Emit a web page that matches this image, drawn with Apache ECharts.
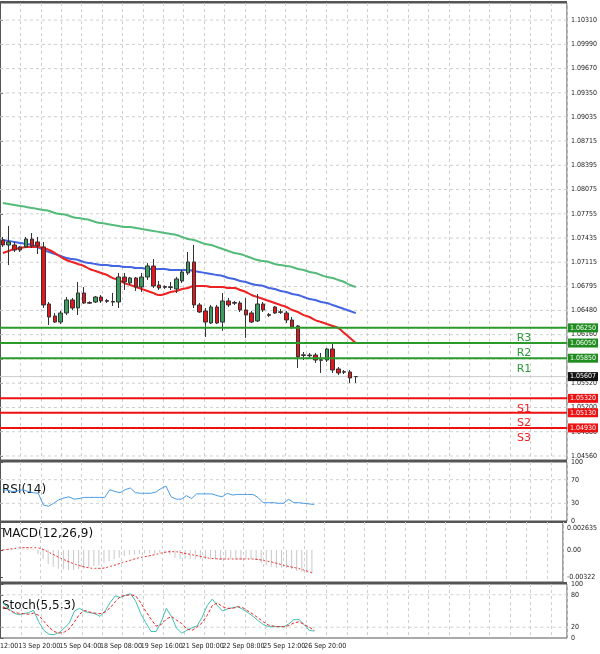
<!DOCTYPE html>
<html>
<head>
<meta charset="utf-8">
<script src="https://cdn.jsdelivr.net/npm/echarts@6/dist/echarts.min.js"></script>
<style>
  html, body { margin: 0; padding: 0; background: #fff; }
  #chart { width: 600px; height: 654px; }
</style>
</head>
<body>
<div id="chart"></div>
<script>
// candles: [open, close, low, high]
const candles = [
  [1.07409,1.07343,1.07317,1.07449],[1.07343,1.07383,1.07079,1.07594],[1.07343,1.07277,1.07251,1.07383],
  [1.07317,1.07277,1.07251,1.07330],[1.07317,1.07422,1.07303,1.07449],[1.07422,1.07330,1.07303,1.07501],
  [1.07383,1.07330,1.07224,1.07449],[1.07317,1.06552,1.06512,1.07383],[1.06565,1.06393,1.06288,1.06591],
  [1.06407,1.06327,1.06314,1.06446],[1.06327,1.06446,1.06301,1.06473],[1.06446,1.06618,1.06420,1.06657],
  [1.06618,1.06512,1.06486,1.06644],[1.06512,1.06710,1.06420,1.06855],[1.06710,1.06578,1.06565,1.06789],
  [1.06585,1.06575,1.06565,1.06600],[1.06591,1.06657,1.06578,1.06670],[1.06657,1.06605,1.06578,1.06683],
  [1.06610,1.06600,1.06578,1.06630],[1.06598,1.06590,1.06539,1.06710],[1.06591,1.06921,1.06512,1.06974],
  [1.06921,1.06855,1.06750,1.06974],[1.06842,1.06908,1.06815,1.06921],[1.06908,1.06789,1.06737,1.06921],
  [1.06789,1.06921,1.06724,1.06974],[1.06921,1.07066,1.06881,1.07106],[1.07066,1.06802,1.06776,1.07158],
  [1.06815,1.06776,1.06750,1.06868],[1.06795,1.06785,1.06763,1.06810],[1.06792,1.06782,1.06750,1.06855],
  [1.06763,1.06895,1.06710,1.06921],[1.06868,1.06987,1.06842,1.07013],[1.06974,1.07119,1.06947,1.07251],
  [1.07119,1.06552,1.06512,1.07343],[1.06552,1.06459,1.06446,1.06578],[1.06473,1.06327,1.06130,1.06512],
  [1.06314,1.06525,1.06301,1.06552],[1.06525,1.06314,1.06301,1.06552],[1.06327,1.06605,1.06209,1.06710],
  [1.06605,1.06552,1.06525,1.06644],[1.06585,1.06575,1.06552,1.06605],[1.06578,1.06486,1.06459,1.06605],
  [1.06486,1.06420,1.06117,1.06644],[1.06446,1.06327,1.06314,1.06473],[1.06341,1.06565,1.06327,1.06697],
  [1.06565,1.06486,1.06459,1.06591],[1.06425,1.06415,1.06393,1.06446],[1.06525,1.06446,1.06433,1.06538],
  [1.06455,1.06462,1.06433,1.06499],[1.06446,1.06354,1.06314,1.06473],[1.06354,1.06261,1.06235,1.06393],
  [1.06275,1.05866,1.05721,1.06288],[1.05895,1.05885,1.05826,1.05932],[1.05892,1.05882,1.05853,1.05919],
  [1.05892,1.05826,1.05787,1.05919],[1.05830,1.05822,1.05655,1.05919],[1.05826,1.05971,1.05800,1.05985],
  [1.05971,1.05694,1.05655,1.06064],[1.05708,1.05655,1.05628,1.05734],[1.05672,1.05665,1.05641,1.05694],
  [1.05668,1.05589,1.05523,1.05694],[1.05607,1.05607,1.05523,1.05615]
];

const maSlow = [1.07897,1.07884,1.07871,1.07858,1.07845,1.07831,1.07818,1.07805,1.07792,1.07765,1.07752,1.07739,
  1.07713,1.07699,1.07686,1.07673,1.07647,1.07633,1.07620,1.07607,1.07594,1.07581,1.07581,1.07567,1.07554,1.07541,
  1.07528,1.07515,1.07501,1.07488,1.07475,1.07449,1.07422,1.07409,1.07383,1.07356,1.07343,1.07317,1.07290,1.07264,
  1.07237,1.07224,1.07198,1.07171,1.07145,1.07132,1.07119,1.07092,1.07079,1.07066,1.07053,1.07026,1.07013,1.06987,
  1.06974,1.06947,1.06921,1.06908,1.06881,1.06855,1.06815,1.06789];
const maMid = [1.07409,1.07396,1.07383,1.07369,1.07356,1.07343,1.07317,1.07277,1.07251,1.07224,1.07198,1.07171,
  1.07158,1.07145,1.07119,1.07105,1.07092,1.07079,1.07079,1.07066,1.07066,1.07053,1.07053,1.07039,1.07039,1.07026,
  1.07026,1.07026,1.07026,1.07013,1.07013,1.07013,1.07013,1.07000,1.06987,1.06974,1.06960,1.06947,1.06934,1.06908,
  1.06894,1.06868,1.06855,1.06828,1.06815,1.06802,1.06775,1.06762,1.06736,1.06723,1.06696,1.06683,1.06657,1.06630,
  1.06617,1.06591,1.06578,1.06551,1.06525,1.06498,1.06472,1.06445];
const maFast = [1.07237,1.07264,1.07290,1.07303,1.07317,1.07317,1.07317,1.07303,1.07277,1.07237,1.07185,1.07145,
  1.07119,1.07092,1.07066,1.07026,1.07000,1.06974,1.06947,1.06907,1.06881,1.06841,1.06815,1.06789,1.06762,1.06736,
  1.06709,1.06683,1.06696,1.06723,1.06736,1.06762,1.06775,1.06802,1.06802,1.06802,1.06789,1.06789,1.06789,1.06775,
  1.06775,1.06749,1.06723,1.06683,1.06657,1.06630,1.06604,1.06578,1.06551,1.06525,1.06485,1.06459,1.06419,1.06393,
  1.06353,1.06327,1.06300,1.06274,1.06247,1.06181,1.06115,1.06049];

const rsi = [53,52,50,51,53,50,48,47,27,25,30,36,39,41,37,38,40,40,40,40,40,53,50,48,53,56,48,47,47,47,49,55,59,
  41,37,37,43,38,46,46,46,46,43,41,47,44,45,45,45,45,40,31,31,31,30,30,37,31,31,30,29,28];

const macdHist = [0.0001,0.0001,0.0001,0.0001,0.0001,0.0001,0.0001,-0.0005,-0.00111,-0.00171,-0.00199,-0.00223,
  -0.00231,-0.00239,-0.00239,-0.00231,-0.00223,-0.00211,-0.00191,-0.00183,-0.00159,-0.00131,-0.00111,-0.00092,
  -0.00072,-0.00052,-0.00052,-0.00044,-0.0004,-0.0004,-0.00044,-0.00032,-0.00024,-0.00052,-0.00092,-0.00103,
  -0.00103,-0.00111,-0.00103,-0.00103,-0.00111,-0.00111,-0.00111,-0.00119,-0.00111,-0.00103,-0.00103,-0.00103,
  -0.00111,-0.00111,-0.00119,-0.00151,-0.00183,-0.00199,-0.00211,-0.00211,-0.00211,-0.00231,-0.00251,-0.00263,
  -0.00271,-0.00279];
const macdSignal = [0,0.00008,0.00016,0.00024,0.00028,0.00028,0.00028,0.00024,0.00008,-0.00024,-0.00052,-0.00084,
  -0.00111,-0.00139,-0.00163,-0.00183,-0.00199,-0.00211,-0.00219,-0.00219,-0.00215,-0.00199,-0.00183,-0.00163,
  -0.00143,-0.00127,-0.00107,-0.00092,-0.0008,-0.00068,-0.00056,-0.0004,-0.00028,-0.0002,-0.0002,-0.00028,-0.0004,
  -0.00052,-0.00064,-0.00076,-0.00088,-0.001,-0.00103,-0.00107,-0.00107,-0.00107,-0.00107,-0.00107,-0.00107,
  -0.00107,-0.00111,-0.00119,-0.00131,-0.00143,-0.00159,-0.00175,-0.00191,-0.00203,-0.00215,-0.00231,-0.00251,-0.00271];

const stochMain = [65,56,47,43,45,47,51,30,14,7,6,10,18,28,50,55,49,47,45,40,50,66,78,75,79,82,68,45,28,12,12,30,
  55,40,18,9,14,19,22,38,60,72,60,50,54,56,58,53,47,40,32,25,21,21,21,21,26,34,34,25,14,13];
const stochSignal = [58,53,48,46,45,44,46,42,31,20,12,9,11,17,30,44,51,48,46,45,48,56,67,77,79,80,78,65,49,35,22,
  25,35,40,33,27,17,14,20,28,42,60,65,58,55,55,58,56,50,44,37,30,24,22,21,21,23,28,30,25,20,14];

const priceTicks = [1.10310,1.09990,1.09670,1.09350,1.09035,1.08715,1.08395,1.08075,1.07755,1.07435,1.07115,
  1.06795,1.06480,1.06160,1.05840,1.05520,1.05200,1.04880,1.04560];
const resistances = [['R3',1.06250],['R2',1.06050],['R1',1.05850]];
const supports = [['S1',1.05320],['S2',1.05130],['S3',1.04930]];
const lastPrice = 1.05607;

const timeIdx = [3,11,19,27,35,43,51,59];
const timeText = ['13 Sep 20:00','15 Sep 04:00','18 Sep 08:00','19 Sep 16:00','21 Sep 00:00','22 Sep 08:00',
  '25 Sep 12:00','26 Sep 20:00'];

const FONT = 'DejaVu Sans Condensed';
const W = 567; // plot width in px, used as the extent of the hidden value x axes
const mainCats = Array.from({length: 98}, (_, i) => i);
const subCats = Array.from({length: 111}, (_, i) => {
  const k = timeIdx.indexOf(i);
  return k >= 0 ? timeText[k] : '';
});

const chart = echarts.init(document.getElementById('chart'));

const grids = [
  { left: -1, right: 33, top: 3, height: 457 },
  { left: -1, right: 33, top: 462, height: 59 },
  { left: -1, right: 33, top: 522, height: 60 },
  { left: -1, right: 33, top: 584, height: 54 }
].map(g => Object.assign(g, { show: true, borderColor: '#555', borderWidth: 1 }));

const GRIDC = '#cfcfcf';
const dashed = { show: true, lineStyle: { color: GRIDC, type: [3, 3], width: 1 } };

function gridAxisX(i) {
  return { type: 'value', gridIndex: i, min: 0, max: W, interval: 20.4, show: true,
    axisLine: { show: false }, axisTick: { show: false }, axisLabel: { show: false }, splitLine: dashed };
}
function yAx(i, min, max, ticks, fmt) {
  return { type: 'value', gridIndex: i, position: 'right', min: min, max: max,
    axisLine: { show: true, lineStyle: { color: '#555' } },
    axisTick: { show: true, length: 3, customValues: ticks, lineStyle: { color: '#555' } },
    axisLabel: { customValues: ticks, fontSize: 7, fontFamily: FONT, color: '#222', margin: 4, formatter: fmt },
    splitLine: { show: false } };
}

// horizontal rules drawn as line series across the hidden value x axis
function hRule(grid, v, style, extraData, z) {
  const data = [[0, v]].concat(extraData || []).concat([[W, v]]);
  return { type: 'line', xAxisIndex: 4 + grid, yAxisIndex: grid, data: data,
    showSymbol: false, symbol: 'circle', symbolSize: 0, clip: false,
    lineStyle: style, silent: true, z: z || 1, animation: false };
}
function gridRules(grid, values) {
  return values.map(v => hRule(grid, v, { color: GRIDC, type: [3, 3], width: 1 }));
}
function tag(v, bg) {
  return { value: [W, v], label: { show: true, position: 'right', distance: 1,
    formatter: v.toFixed(5), color: '#fff', backgroundColor: bg, fontSize: 7, fontFamily: FONT, padding: [1, 2] } };
}
function levelSeries(n, v, col, tagBg, txtCol) {
  const nameLabel = { value: [524, v], label: { show: true, position: 'bottom', distance: 5,
    formatter: n, color: txtCol, fontSize: 11, fontFamily: 'DejaVu Sans' } };
  const s = hRule(0, v, { color: col, width: 2 }, [nameLabel], 6);
  s.data[s.data.length - 1] = tag(v, tagBg);
  s.showSymbol = true;
  return s;
}

const levels = [];
resistances.forEach(([n, v]) => levels.push(levelSeries(n, v, '#2a9a2a', '#1f8c1f', '#2e9a3a')));
supports.forEach(([n, v]) => levels.push(levelSeries(n, v, '#ee1111', '#ee1111', '#ee2222')));
const lastS = hRule(0, lastPrice, { color: '#cccccc', width: 1 }, [], 2);
lastS.data[1] = tag(lastPrice, '#111');
lastS.showSymbol = true;

const titleStyle = { fontSize: 12, fontFamily: 'DejaVu Sans', fill: '#111' };

chart.setOption({
  animation: false,
  backgroundColor: '#fff',
  grid: grids,
  xAxis: [
    { type: 'category', gridIndex: 0, data: mainCats, show: false },
    { type: 'category', gridIndex: 1, data: subCats, show: false },
    { type: 'category', gridIndex: 2, data: subCats, show: false },
    { type: 'category', gridIndex: 3, data: subCats, axisLine: { show: false }, axisTick: { show: false },
      axisLabel: { interval: 0, fontSize: 7, fontFamily: FONT, color: '#222', margin: 5, align: 'left' } },
    gridAxisX(0), gridAxisX(1), gridAxisX(2), gridAxisX(3)
  ],
  yAxis: [
    yAx(0, 1.04507, 1.10535, priceTicks, v => v.toFixed(5)),
    yAx(1, 0, 100, [0, 30, 70, 100], v => String(v)),
    yAx(2, -0.00382, 0.00335, [-0.00322, 0, 0.002635], v => v === 0 ? '0.00' : String(v)),
    yAx(3, 0, 100, [0, 20, 80, 100], v => String(v))
  ],
  graphic: [
    { type: 'text', left: 2, top: 484, style: Object.assign({ text: 'RSI(14)' }, titleStyle) },
    { type: 'text', left: 2, top: 528, style: Object.assign({ text: 'MACD(12,26,9)' }, titleStyle) },
    { type: 'text', left: 2, top: 600, style: Object.assign({ text: 'Stoch(5,5,3)' }, titleStyle) },
    { type: 'text', left: 0, top: 643, style: { text: '12:00', fontSize: 7, fontFamily: FONT, fill: '#222' } },
    { type: 'line', shape: { x1: 0, y1: 2, x2: W, y2: 2 }, style: { stroke: '#555', lineWidth: 2 } },
    { type: 'line', shape: { x1: 0, y1: 461, x2: W, y2: 461 }, style: { stroke: '#555', lineWidth: 2 } },
    { type: 'line', shape: { x1: 0, y1: 522, x2: W, y2: 522 }, style: { stroke: '#555', lineWidth: 2 } },
    { type: 'line', shape: { x1: 0, y1: 583, x2: W, y2: 583 }, style: { stroke: '#555', lineWidth: 2 } }
  ],
  series: [].concat(
    gridRules(0, priceTicks), gridRules(1, [30, 70]), gridRules(3, [20, 80]),
    [lastS],
    [
      { type: 'line', xAxisIndex: 0, yAxisIndex: 0, data: maSlow, showSymbol: false, smooth: true,
        lineStyle: { color: '#55bb7a', width: 2 }, z: 4 },
      { type: 'line', xAxisIndex: 0, yAxisIndex: 0, data: maMid, showSymbol: false, smooth: true,
        lineStyle: { color: '#4466e0', width: 2 }, z: 4 },
      { type: 'line', xAxisIndex: 0, yAxisIndex: 0, data: maFast, showSymbol: false, smooth: true,
        lineStyle: { color: '#ee2222', width: 2 }, z: 4 },
      { type: 'candlestick', xAxisIndex: 0, yAxisIndex: 0, data: candles, barWidth: 4, z: 5,
        itemStyle: { color: '#3a9e62', color0: '#e8141b', borderColor: '#333', borderColor0: '#333', borderWidth: 1 } },
      { type: 'line', xAxisIndex: 1, yAxisIndex: 1, data: rsi, showSymbol: false,
        lineStyle: { color: '#4a9be8', width: 1 } },
      { type: 'bar', xAxisIndex: 2, yAxisIndex: 2, data: macdHist, barWidth: 1,
        itemStyle: { color: '#c8c8c8' } },
      { type: 'line', xAxisIndex: 2, yAxisIndex: 2, data: macdSignal, showSymbol: false, smooth: true,
        lineStyle: { color: '#ee2222', width: 1, type: [2, 2] } },
      { type: 'line', xAxisIndex: 3, yAxisIndex: 3, data: stochMain, showSymbol: false,
        lineStyle: { color: '#40c0b0', width: 1 } },
      { type: 'line', xAxisIndex: 3, yAxisIndex: 3, data: stochSignal, showSymbol: false,
        lineStyle: { color: '#ee2222', width: 1, type: [3, 2] } }
    ],
    levels
  )
});
</script>
</body>
</html>
